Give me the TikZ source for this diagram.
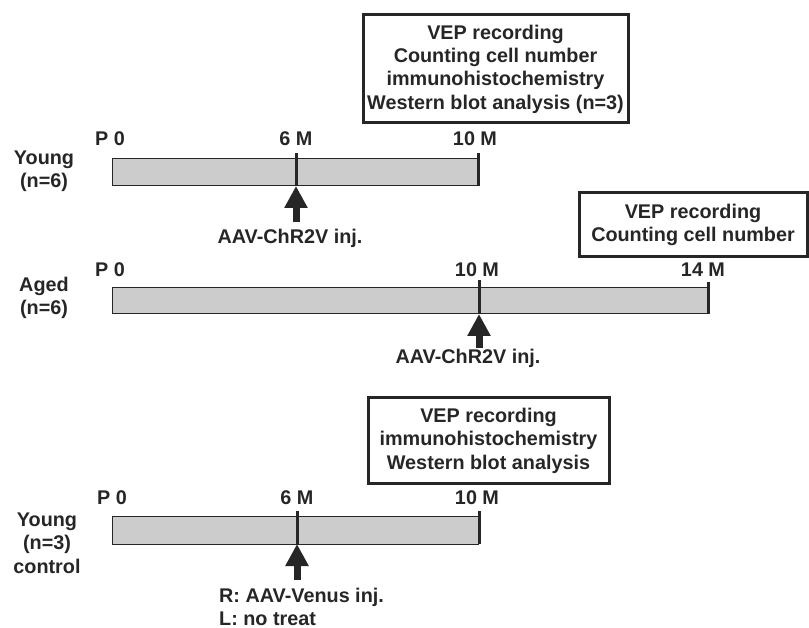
\documentclass[tikz,border=0pt]{standalone}
\usepackage{fontspec}
\setmainfont{Liberation Sans}
\usetikzlibrary{arrows.meta}
\begin{document}
\begin{tikzpicture}[x=1pt, y=-1pt, black!85,
                    every node/.style={font=\bfseries\fontsize{19.8}{23.4}\selectfont,
                                       align=center, inner sep=0pt},
                    bar/.style={draw=black!85, fill=black!20, line width=1pt},
                    tick/.style={line width=3pt},
                    inj/.style={-{Triangle[width=22pt, length=22pt]}, line width=7pt},
                    result/.style={draw, line width=3pt}]
    \useasboundingbox (0,0) rectangle (809,628);

    % young, n=6
    \node (young) at (44,171) {Young\\(n=6)};
    \draw[bar] (112,159) rectangle (478,186);
    \node (y0)  at (110,139) {P 0};
    \node (y6)  at (296,139) {6 M};
    \node (y10) at (475,139) {10 M};
    \coordinate (y6t) at (296,153);  \coordinate (y6b) at (296,186);
    \coordinate (y10t) at (478,153); \coordinate (y10b) at (478,186);
    \draw[tick] (y6t) -- (y6b);
    \draw[tick] (y10t) -- (y10b);
    \coordinate (y6a) at (296,222);
    \draw[inj] (y6a) -- (y6b);
    \node (ylab) at (290,238) {AAV-ChR2V inj.};
    \node[result, minimum width=265pt, minimum height=108pt] (yres) at (495.5,69)
        {VEP recording\\Counting cell number\\immunohistochemistry\\Western blot analysis (n=3)};

    % aged, n=6
    \node (aged) at (44,298) {Aged\\(n=6)};
    \draw[bar] (112,288) rectangle (708,314);
    \node (a0)  at (110,270) {P 0};
    \node (a10) at (477,270) {10 M};
    \node (a14) at (703,270) {14 M};
    \coordinate (a10t) at (479,280); \coordinate (a10b) at (479,314);
    \coordinate (a14t) at (708,282); \coordinate (a14b) at (708,314);
    \draw[tick] (a10t) -- (a10b);
    \draw[tick] (a14t) -- (a14b);
    \coordinate (a10a) at (479,348);
    \draw[inj] (a10a) -- (a10b);
    \node (alab) at (468,358) {AAV-ChR2V inj.};
    \node[result, minimum width=228pt, minimum height=64pt] (ares) at (693,225)
        {VEP recording\\Counting cell number};

    % young control, n=3
    \node (ctrl) at (47,543) {Young\\(n=3)\\control};
    \draw[bar] (112,516) rectangle (478,544);
    \node (c0)  at (112,498) {P 0};
    \node (c6)  at (297,498) {6 M};
    \node (c10) at (477,498) {10 M};
    \coordinate (c6t) at (297,511);  \coordinate (c6b) at (297,544);
    \coordinate (c10t) at (479,511); \coordinate (c10b) at (479,544);
    \draw[tick] (c6t) -- (c6b);
    \draw[tick] (c10t) -- (c10b);
    \coordinate (c6a) at (297,580);
    \draw[inj] (c6a) -- (c6b);
    \node[align=left, anchor=west] (clab) at (219,607) {R: AAV-Venus inj.\\L: no treat};
    \node[result, minimum width=241pt, minimum height=85pt] (cres) at (488.5,440.5)
        {VEP recording\\immunohistochemistry\\Western blot analysis};
\end{tikzpicture}
\end{document}
